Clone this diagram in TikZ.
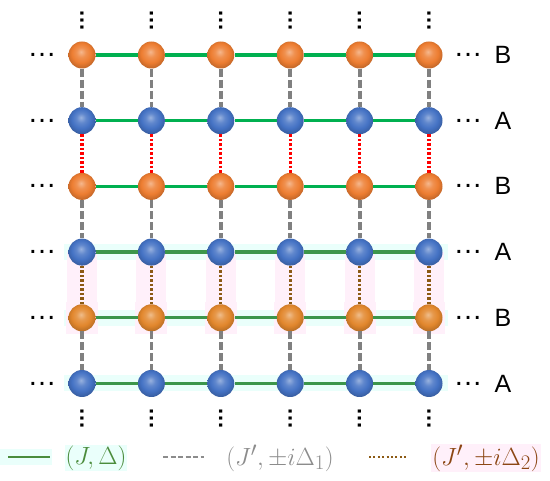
\documentclass[tikz,border=0pt]{standalone}
\usepackage{fontspec}
\newfontfamily\rowfont{Liberation Sans}
\usetikzlibrary{positioning}

\definecolor{ballorange}{RGB}{237,125,49}
\definecolor{ballblue}{RGB}{68,114,196}
\definecolor{ballmix}{RGB}{226,135,45}
\definecolor{hopgreen}{RGB}{0,176,80}
\definecolor{hopgreendark}{RGB}{60,150,75}
\definecolor{hopgray}{RGB}{128,128,128}
\definecolor{hopred}{RGB}{255,0,0}
\definecolor{hopbrown}{RGB}{140,90,20}
\definecolor{keygreen}{RGB}{75,140,60}
\definecolor{keygray}{RGB}{140,140,140}
\definecolor{keybrown}{RGB}{140,70,20}
\definecolor{halocyan}{RGB}{234,255,251}
\definecolor{halopink}{RGB}{255,240,250}
\colorlet{sitecol}{ballorange}

\pgfdeclareradialshading[sitecol]{siteball}{\pgfpoint{-2bp}{6bp}}{%
  color(0bp)=(sitecol!55!white); color(9bp)=(sitecol!85!white);
  color(18bp)=(sitecol); color(27bp)=(sitecol!82!black);
  color(50bp)=(sitecol!75!black)}

\tikzset{
  site color/.code={\colorlet{sitecol}{#1}},
  site/.style={circle, minimum size=27pt, inner sep=0pt, shading=siteball},
  hop/.style={line width=3.3pt, color=hopgreen},
  hoplow/.style={line width=3.3pt, color=hopgreendark},
  dashhop/.style={line width=3.8pt, color=hopgray, dash pattern=on 8pt off 3pt},
  dothop/.style={line width=3.3pt, color=hopred, dash pattern=on 2.5pt off 2pt},
  dotbrown/.style={line width=3.3pt, color=hopbrown, dash pattern=on 2.5pt off 2pt},
  dots/.style={inner sep=0pt, font=\rowfont\fontsize{29}{32}\selectfont},
  vdots/.style={inner sep=0pt, rotate=90, font=\rowfont\bfseries\fontsize{22}{26}\selectfont},
  rowlabel/.style={inner sep=0pt, font=\rowfont\fontsize{25}{30}\selectfont},
  keytext/.style={inner sep=1pt, font=\Huge}
}

\begin{document}
\begin{tikzpicture}[x=1pt, y=-1pt]
  \useasboundingbox (0,0) rectangle (550,481);

  % faint halos behind the lower rows
  \foreach \r in {252.1,317.8,383.5}
    \fill[halocyan] (64,\r-8) rectangle (448,\r+8);
  \foreach \c in {1,...,6} {
    \fill[halopink] ({82+69.4*(\c-1)-15},252.1) rectangle ({82+69.4*(\c-1)+15},317.8);
    \fill[halopink] ({82+69.4*(\c-1)-16},301.8) rectangle ({82+69.4*(\c-1)+16},333.8);
  }

  % lattice sites
  \foreach \r/\col in {1/ballorange,2/ballblue,3/ballorange,4/ballblue,5/ballmix,6/ballblue}
    \foreach \c in {1,...,6}
      \node (s\c-\r) [site color=\col, site] at ({82+69.4*(\c-1)},{55+65.7*(\r-1)}) {};

  % hoppings along the rows
  \foreach \r/\sty in {1/hop,2/hop,3/hop,4/hoplow,5/hoplow,6/hoplow}
    \foreach \c in {1,...,5} {
      \pgfmathtruncatemacro{\cc}{\c+1}
      \draw[\sty] (s\c-\r) -- (s\cc-\r);
    }

  % hoppings between the rows
  \foreach \r/\sty in {1/dashhop,2/dothop,3/dashhop,4/dotbrown,5/dashhop}
    \foreach \c in {1,...,6} {
      \pgfmathtruncatemacro{\rr}{\r+1}
      \draw[\sty] (s\c-\r) -- (s\c-\rr);
    }

  % continuation dots
  \foreach \c in {1,...,6} {
    \node (up\c) [vdots] at ({82+69.4*(\c-1)},20.5) {…};
    \node (dn\c) [vdots] at ({82+69.4*(\c-1)},419) {…};
  }
  \foreach \r/\lab in {1/B,2/A,3/B,4/A,5/B,6/A} {
    \node (L\r) [dots] at (42,{55+65.7*(\r-1)}) {…};
    \node (R\r) [dots] at (468,{55+65.7*(\r-1)}) {…};
    \node (N\r) [rowlabel] at (503,{55+65.7*(\r-1)}) {\lab};
  }

  % legend
  \coordinate (g1) at (8,457);
  \coordinate (g2) at (50,457);
  \coordinate (d1) at (163,457);
  \coordinate (d2) at (204,457);
  \coordinate (b1) at (369,457);
  \coordinate (b2) at (407,457);
  \fill[halocyan] (0,449) rectangle (52,465);
  \draw[line width=2.8pt, keygreen] (g1) -- (g2);
  \draw[line width=2.8pt, keygray, dash pattern=on 5pt off 2.5pt] (d1) -- (d2);
  \draw[line width=2.4pt, hopbrown, dash pattern=on 2pt off 2.4pt] (b1) -- (b2);
  \node (K1) [keytext, fill=halocyan, text=keygreen] at (96,458) {$(J,\Delta)$};
  \node (K2) [keytext, text=keygray] at (280,458) {$(J',\pm i\Delta_1)$};
  \node (K3) [keytext, fill=halopink, text=keybrown] at (486,458) {$(J',\pm i\Delta_2)$};
\end{tikzpicture}
\end{document}
